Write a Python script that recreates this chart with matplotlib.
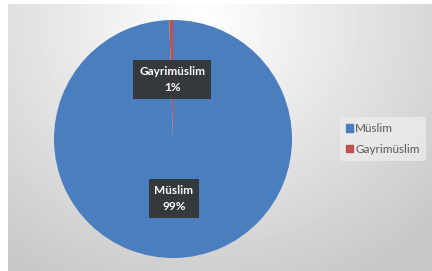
import numpy as np
import matplotlib
matplotlib.use("Agg")
import matplotlib.pyplot as plt

# data
labels = ["Müslim", "Gayrimüslim"]
values = [99.5, 0.5]
pct_text = ["99%", "1%"]
colors = ["#4a7ebf", "#c0504d"]

W, H = 432, 271
fig = plt.figure(figsize=(W / 100, H / 100), dpi=100)
fig.patch.set_facecolor("white")

# gray radial-gradient chart area
bg = fig.add_axes([8 / W, 0, 1 - 8 / W, 1 - 4 / H])
yy, xx = np.mgrid[0:267, 0:424]
d = np.sqrt(((xx - 190) / 330.0) ** 2 + ((yy - 20) / 290.0) ** 2)
shade = 1.0 - 0.22 * np.clip(d, 0, 1)
bg.imshow(shade, cmap="gray", vmin=0, vmax=1, aspect="auto",
          interpolation="bilinear")
bg.axis("off")

# pie
cx, cy, r = 173, 139, 119
ax = fig.add_axes([(cx - r) / W, (H - cy - r) / H, 2 * r / W, 2 * r / H])
wedges, _ = ax.pie(values, colors=colors, startangle=90, counterclock=False,
                   wedgeprops=dict(linewidth=0))
ax.set_xlim(-1, 1)
ax.set_ylim(-1, 1)
ax.set_aspect("equal")
ax.axis("off")

for w, lab, pt in zip(wedges, labels, pct_text):
    ang = np.deg2rad((w.theta1 + w.theta2) / 2)
    x, y = 0.5 * np.cos(ang), 0.5 * np.sin(ang)
    ax.text(x, y, f"{lab}\n{pt}", ha="center", va="center", color="white",
            fontsize=8.5, fontweight="bold", family="Lato", linespacing=1.6,
            bbox=dict(boxstyle="square,pad=0.5", fc="#333333", ec="none",
                      alpha=0.92))

# legend
handles = [plt.Rectangle((0, 0), 1, 1, color=c) for c in colors]
leg = fig.legend(handles, labels, loc="center left",
                 bbox_to_anchor=(340 / W, 1 - 139 / H), frameon=True,
                 prop=dict(family="Lato", size=8.5), labelcolor="#595959",
                 handlelength=0.6, handleheight=0.6, handletextpad=0.2,
                 labelspacing=0.8, borderpad=0.5, borderaxespad=0)
leg.get_frame().set_facecolor("#ececec")
leg.get_frame().set_edgecolor("none")
leg.get_frame().set_alpha(0.8)

fig.savefig("out.png", dpi=100)
